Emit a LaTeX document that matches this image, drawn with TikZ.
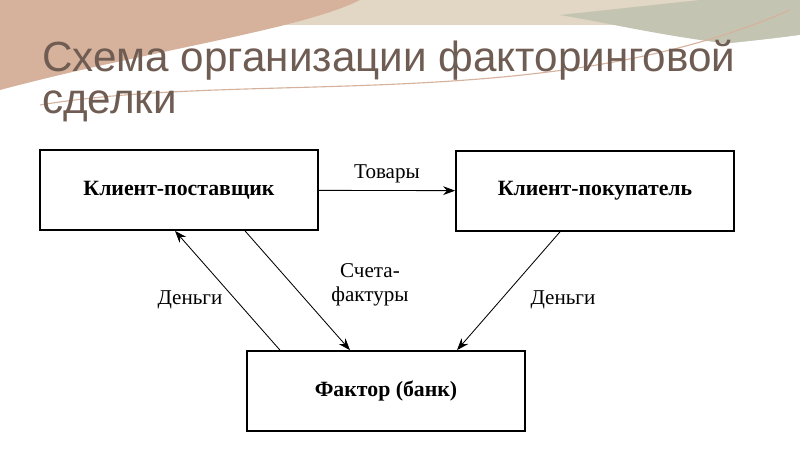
\documentclass[tikz,border=0pt]{standalone}
\usepackage{fontspec}
\setmainfont{Liberation Serif}
\newfontfamily\titlefont{Liberation Sans}
\usetikzlibrary{arrows.meta, positioning}
\definecolor{titlegray}{RGB}{111, 92, 82}
\definecolor{peach}{RGB}{214, 178, 156}
\definecolor{sage}{RGB}{196, 196, 178}
\definecolor{sand}{RGB}{226, 214, 196}

\begin{document}
\begin{tikzpicture}[
    x=0.025cm, y=-0.025cm,
    box/.style={rectangle, draw, line width=1.2pt, minimum width=6.95cm, minimum height=2cm, align=center, font=\fontsize{15.5}{17}\selectfont\bfseries},
    lbl/.style={font=\fontsize{15}{17}\selectfont, align=center},
    arrow/.style={-{Stealth[length=3mm, width=2.2mm]}, semithick}
]
    \useasboundingbox (0,0) rectangle (800,449);
    % Header decoration
    \fill[sand] (0,0) rectangle (800,25);
    \fill[peach] (0,0) -- (360,0) .. controls (300,30) and (150,50) .. (0,90) -- cycle;
    \fill[sage] (700,0) -- (800,0) -- (800,50) .. controls (700,45) and (620,25) .. (560,15) -- cycle;
    \fill[white] (0,95) .. controls (200,45) and (500,75) .. (800,35) -- (800,449) -- (0,449) -- cycle;
    \draw[peach, thick] (40,105) .. controls (250,70) and (550,115) .. (790,10);

    % Title
    \node[anchor=north west, inner sep=0pt, text=titlegray, align=left,
          font=\titlefont\fontsize{30}{30}\selectfont] (title) at (42,40)
          {Схема организации факторинговой\\сделки};

    % Boxes
    \node[box] (supplier) at (179,190) {Клиент-поставщик};
    \node[box] (buyer) at (595,191) {Клиент-покупатель};
    \node[box] (factor) at (386,391) {Фактор (банк)};

    % Arrows
    \draw[arrow] (supplier) -- node[lbl, above=2pt] {Товары} (buyer);
    \draw[arrow] (factor.north west -| 280,0) -- (supplier.south west -| 175,0);
    \draw[arrow] (supplier.south west -| 245,0) -- (factor.north west -| 350,0);
    \draw[arrow] (buyer.south west -| 560,0) -- (factor.north west -| 457,0);

    % Labels
    \node[lbl] (money1) at (190,300) {Деньги};
    \node[lbl] (invoices) at (370,285) {Счета-\\фактуры};
    \node[lbl] (money2) at (563,300) {Деньги};
\end{tikzpicture}
\end{document}
